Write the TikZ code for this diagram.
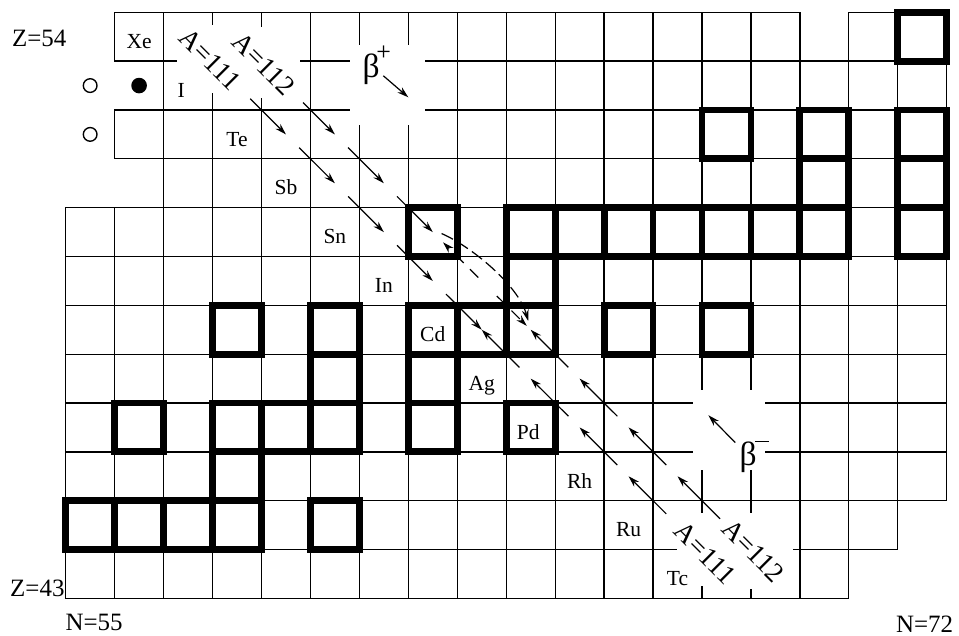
\documentclass[tikz,border=0pt]{standalone}
\usepackage{fontspec}
\setmainfont{Liberation Serif}
\usetikzlibrary{arrows.meta,calc}
\begin{document}
\begin{tikzpicture}[x=1cm,y=0.9978cm,
  gridline/.style={line width=0.75pt},
  stablecell/.style={line width=4pt},
  elem/.style={anchor=base,inner sep=0pt,font=\fontsize{12.5}{14}\selectfont},
  axislbl/.style={anchor=base west,inner sep=0pt,font=\fontsize{14.5}{16}\selectfont},
  isolbl/.style={rotate=-45,inner sep=0pt,font=\fontsize{16}{18}\selectfont},
  decay/.style={line width=0.7pt,-{Stealth[length=2.3mm,width=1.4mm]}},
  mask/.style={fill=white}]
\useasboundingbox (-1.342,-0.752) rectangle (18.251,12.252);
% thin grid
\foreach \j/\a/\b in {11/1/14,11/16/17,10/2/17,9/1/17,8/2/17,7/0/17,6/0/17,5/0/17,4/0/17,3/0/17,2/0/17,1/0/16,0/0/15}
  \foreach \i in {\a,...,\b}
    \draw[gridline] (\i,\j) rectangle ++(1,1);
% stable nuclei (thick cells)
\foreach \i/\j in {17/11, 13/9,15/9,17/9, 15/8,17/8, 7/7,9/7,10/7,11/7,12/7,13/7,14/7,15/7,17/7, 9/6, 3/5,5/5,7/5,8/5,9/5,11/5,13/5, 5/4,7/4, 1/3,3/3,4/3,5/3,7/3,9/3, 3/2, 0/1,1/1,2/1,3/1,5/1}
  \draw[stablecell] (\i,\j) rectangle ++(1,1);
% white masks behind labels
\fill[mask] (2.27,10.34) rectangle (3.63,11.74);
\fill[mask] (3.37,10.25) rectangle (4.79,11.7);
\fill[mask] (5.81,9.69) rectangle (7.35,11.33);
\fill[mask] (12.81,2.62) rectangle (14.29,4.26);
\fill[mask] (12.49,0.25) rectangle (13.75,1.74);
\fill[mask] (13.36,0.2) rectangle (14.86,1.74);
% circles
\draw[line width=0.8pt] (0.5,10.5) circle (0.14);
\fill (1.5,10.5) circle (0.16);
\draw[line width=0.8pt] (0.5,9.5) circle (0.14);
% axis labels
\node[axislbl] (z54) at (-1.10,11.29) {Z=54};
\node[axislbl] (z43) at (-1.14,0.03) {Z=43};
\node[axislbl] (n55) at (-0.01,-0.65) {N=55};
\node[axislbl] (n72) at (16.96,-0.69) {N=72};
% element labels
\node[elem] (xe) at (1.5,11.26) {Xe};
\node[elem] (iod) at (2.36,10.26) {I};
\node[elem] (te) at (3.5,9.26) {Te};
\node[elem] (sb) at (4.5,8.26) {Sb};
\node[elem] (sn) at (5.5,7.26) {Sn};
\node[elem] (in) at (6.5,6.26) {In};
\node[elem] (cd) at (7.5,5.26) {Cd};
\node[elem] (ag) at (8.5,4.26) {Ag};
\node[elem] (pd) at (9.45,3.26) {Pd};
\node[elem] (rh) at (10.5,2.26) {Rh};
\node[elem] (ru) at (11.5,1.26) {Ru};
\node[elem] (tc) at (12.5,0.26) {Tc};
% isobar labels
\node[isolbl] (a111u) at (2.95,11.04) {A=111};
\node[isolbl] (a112u) at (4.05,10.95) {A=112};
\node[isolbl] (a111d) at (13.07,0.93) {A=111};
\node[isolbl] (a112d) at (14.05,0.97) {A=112};
% beta labels
\node[anchor=base west,inner sep=0pt] (bplus) at (6.06,10.66)
  {\fontsize{19.5}{20}\selectfont β\kern-2pt\raisebox{9.8pt}{\fontsize{15}{15}\selectfont +}};
\node[anchor=base west,inner sep=0pt] (bminus) at (13.76,2.73)
  {\fontsize{19.5}{20}\selectfont β\kern-1pt\rule[13.2pt]{8.4pt}{0.7pt}};
\coordinate (bpa) at (6.49,10.70);
\coordinate (bpb) at (7.00,10.26);
\coordinate (bma) at (13.68,3.19);
\coordinate (bmb) at (13.13,3.75);
\draw[decay] (bpa) -- (bpb);
\draw[decay] (bma) -- (bmb);
% cell centres along the isobars
\foreach \k in {3,...,13} \coordinate (p111-\k) at (\k+0.5,13.5-\k);
\foreach \k in {4,...,13} \coordinate (p112-\k) at (\k+0.5,14.5-\k);
% A=111
\foreach \k/\n in {3/4,4/5,5/6,6/7,7/8}
  \draw[decay] ($(p111-\k)!0.27!(p111-\n)$) -- (p111-\n);
\foreach \k/\n in {9/8,10/9,11/10,12/11}
  \draw[decay] ($(p111-\k)!0.23!(p111-\n)$) -- (p111-\n);
% A=112
\draw[decay] ($(p112-4)!0.35!(p112-5)$) -- (p112-5);
\foreach \k/\n in {5/6,6/7}
  \draw[decay] ($(p112-\k)!0.27!(p112-\n)$) -- (p112-\n);
\draw[decay,dash pattern=on 2.4mm off 1.8mm] ($(p112-8)!0.07!(p112-7)$) -- ($(p112-8)!0.79!(p112-7)$);
\draw[decay,dash pattern=on 2.4mm off 1.8mm] ($(p112-8)!0.31!(p112-9)$) -- ($(p112-8)!0.92!(p112-9)$);
\foreach \k/\n in {10/9,11/10,12/11}
  \draw[decay] ($(p112-\k)!0.23!(p112-\n)$) -- (p112-\n);
\draw[decay] ($(p112-13)!0.13!(p112-12)$) -- (p112-12);
% double beta decay Sn -> Cd
\coordinate (dbs) at (7.68,7.47);
\coordinate (dbe) at (9.45,5.68);
\draw[decay,dash pattern=on 2.6mm off 1mm] (dbs) .. controls (8.3,7.2) and (9.25,6.4) .. (dbe);
\end{tikzpicture}
\end{document}
